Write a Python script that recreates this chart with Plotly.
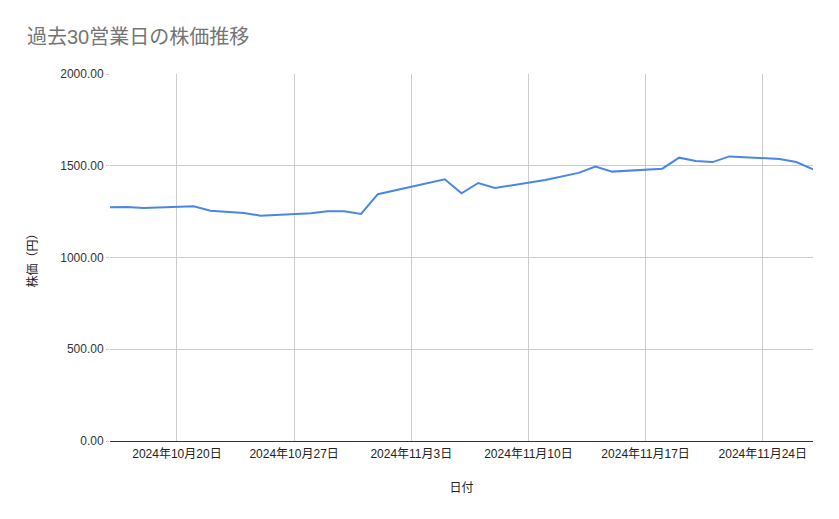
import plotly.graph_objects as go

dates = ["2024-10-16", "2024-10-17", "2024-10-18", "2024-10-21", "2024-10-22",
         "2024-10-23", "2024-10-24", "2024-10-25", "2024-10-28", "2024-10-29",
         "2024-10-30", "2024-10-31", "2024-11-01", "2024-11-05", "2024-11-06",
         "2024-11-07", "2024-11-08", "2024-11-11", "2024-11-12", "2024-11-13",
         "2024-11-14", "2024-11-15", "2024-11-18", "2024-11-19", "2024-11-20",
         "2024-11-21", "2024-11-22", "2024-11-25", "2024-11-26", "2024-11-27"]
prices = [1274, 1275, 1270, 1279, 1255,
          1247, 1243, 1228, 1241, 1252,
          1252, 1237, 1345, 1426, 1350,
          1406, 1379, 1422, 1440, 1461,
          1496, 1468, 1484, 1544, 1526,
          1520, 1551, 1537, 1520, 1481]

x_tick_vals = ["2024-10-20", "2024-10-27", "2024-11-03", "2024-11-10", "2024-11-17", "2024-11-24"]
x_tick_text = ["2024年10月20日", "2024年10月27日", "2024年11月3日", "2024年11月10日", "2024年11月17日", "2024年11月24日"]
y_tick_vals = [0, 500, 1000, 1500, 2000]
y_tick_text = ["0.00", "500.00", "1000.00", "1500.00", "2000.00"]

FONT = "Arial, Liberation Sans, Noto Sans CJK JP, sans-serif"

W, H = 831, 511  # page body has an 8px margin

fig = go.Figure()
fig.add_trace(go.Scatter(
    x=dates, y=prices, mode="lines",
    line=dict(color="#4a86e8", width=2),
    hoverinfo="x+y", showlegend=False,
))

fig.update_layout(
    width=W, height=H,
    margin=dict(l=102, r=26, t=66, b=78),
    paper_bgcolor="white", plot_bgcolor="white",
    font=dict(family=FONT, size=12, color="#222222"),
    title=dict(
        text="過去30営業日の株価推移",
        font=dict(family=FONT, size=20, color="#757575"),
        x=19 / W, xref="container", xanchor="left",
        y=1 - 22 / H, yref="container", yanchor="top",
    ),
    xaxis=dict(
        type="date",
        range=["2024-10-16", "2024-11-27"],
        tickvals=x_tick_vals, ticktext=x_tick_text,
        showgrid=True, gridcolor="#cccccc", gridwidth=1,
        showline=False, zeroline=False,
        ticks="", ticklabelstandoff=4,
        tickfont=dict(size=12, color="#222222"),
        title=dict(text="日付", font=dict(size=12, color="#222222"), standoff=23),
    ),
    yaxis=dict(
        range=[0, 2000],
        tickvals=y_tick_vals, ticktext=y_tick_text,
        showgrid=True, gridcolor="#cccccc", gridwidth=1,
        zeroline=True, zerolinecolor="#333333", zerolinewidth=1,
        ticks="outside", ticklen=3, tickcolor="#cccccc",
        tickfont=dict(size=12, color="#333333"),
        title=dict(text="株価（円）", font=dict(size=12, color="#222222"), standoff=20),
    ),
)

fig.write_html("out.html")
